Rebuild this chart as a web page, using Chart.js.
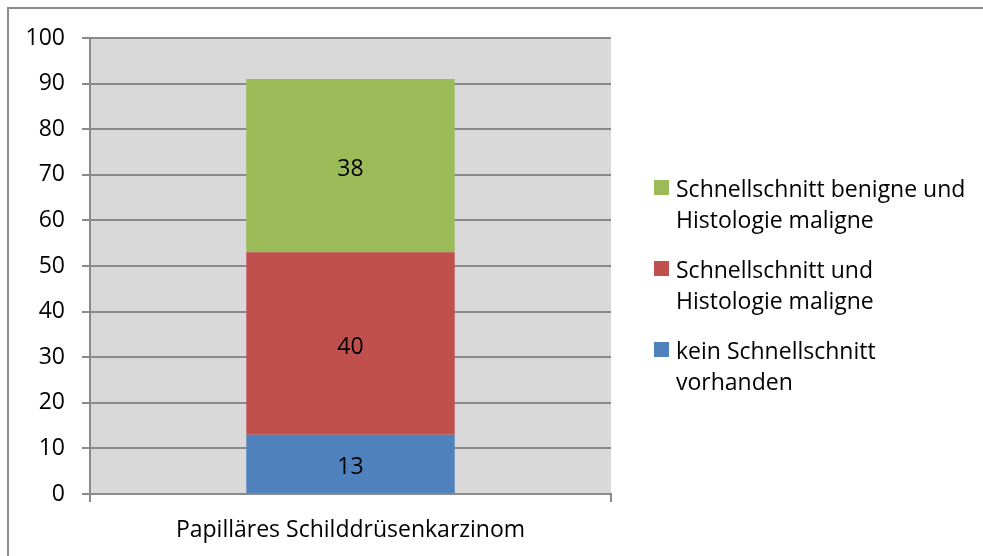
<!DOCTYPE html>
<html>
<head>
<meta charset="utf-8">
<script src="https://cdn.jsdelivr.net/npm/chart.js@4/dist/chart.umd.min.js"></script>
<style>
    html, body { margin: 0; padding: 0; background: #fff; }
    #wrap { position: relative; width: 983px; height: 556px; overflow: hidden; }
    #frame {
        position: absolute; left: 7px; top: 7px; width: 1000px; height: 600px;
        border-left: 2px solid #8c8c8c; border-top: 2px solid #8c8c8c;
        pointer-events: none;
    }
</style>
</head>
<body>
<div id="wrap">
    <canvas id="chart" width="983" height="556"></canvas>
    <div id="frame"></div>
</div>
<script>
// Données
const categories = ['Papilläres Schilddrüsenkarzinom'];
const seriesNames = [
    ['kein Schnellschnitt', 'vorhanden'],
    ['Schnellschnitt und', 'Histologie maligne'],
    ['Schnellschnitt benigne und', 'Histologie maligne']
];
const keinSchnellschnitt = [13];
const schnellschnittMaligne = [40];
const schnellschnittBenigne = [38];
const seriesColors = ['#4f81bd', '#c0504d', '#9bbb59'];
const yTicks = [0, 10, 20, 30, 40, 50, 60, 70, 80, 90, 100];

const FONT = '"Open Sans"';
const FONT_SIZE = 23;
const GRID = '#8a8a8a';

// Fond gris de la zone de tracé
const plotBackground = {
    id: 'plotBackground',
    beforeDraw(chart) {
        const { ctx, chartArea } = chart;
        ctx.save();
        ctx.fillStyle = '#d9d9d9';
        ctx.fillRect(chartArea.left, chartArea.top, chartArea.right - chartArea.left, chartArea.bottom - chartArea.top);
        ctx.restore();
    }
};

// Valeurs au centre de chaque segment
const segmentLabels = {
    id: 'segmentLabels',
    afterDatasetsDraw(chart) {
        const { ctx } = chart;
        ctx.save();
        ctx.fillStyle = '#000';
        ctx.font = `${FONT_SIZE}px ${FONT}`;
        ctx.textAlign = 'center';
        ctx.textBaseline = 'middle';
        chart.data.datasets.forEach((ds, i) => {
            chart.getDatasetMeta(i).data.forEach((bar, j) => {
                const c = bar.getCenterPoint();
                ctx.fillText(String(ds.data[j]), c.x, c.y + 4);
            });
        });
        ctx.restore();
    }
};

// Légende à droite, texte sur deux lignes, ordre inversé
const sideLegend = {
    id: 'sideLegend',
    afterDraw(chart) {
        const { ctx, chartArea } = chart;
        const x = chartArea.right + 43;
        let y = 188;
        ctx.save();
        ctx.font = `${FONT_SIZE}px ${FONT}`;
        ctx.textBaseline = 'middle';
        ctx.textAlign = 'left';
        for (let i = chart.data.datasets.length - 1; i >= 0; i--) {
            const ds = chart.data.datasets[i];
            ctx.fillStyle = ds.backgroundColor;
            ctx.fillRect(x, y - 8, 15, 15);
            ctx.fillStyle = '#000';
            ds.label.forEach((line, k) => {
                ctx.fillText(line, x + 22, y + 2 + k * 31);
            });
            y += 81;
        }
        ctx.restore();
    }
};

const values = [keinSchnellschnitt, schnellschnittMaligne, schnellschnittBenigne];

new Chart(document.getElementById('chart'), {
    type: 'bar',
    data: {
        labels: categories,
        datasets: values.map((v, i) => ({
            label: seriesNames[i],
            data: v,
            backgroundColor: seriesColors[i],
            borderWidth: 0,
            categoryPercentage: 1,
            barPercentage: 0.4
        }))
    },
    options: {
        responsive: false,
        animation: false,
        devicePixelRatio: 1,
        layout: { padding: { left: 0, right: 372, top: 38, bottom: 0 } },
        plugins: {
            legend: { display: false },
            tooltip: { enabled: false }
        },
        scales: {
            x: {
                stacked: true,
                offset: true,
                afterFit: (scale) => { scale.height = 62; },
                grid: {
                    display: true,
                    offset: true,
                    drawOnChartArea: false,
                    drawTicks: true,
                    tickLength: 8,
                    color: GRID,
                    lineWidth: 2
                },
                border: { display: true, color: GRID, width: 2 },
                ticks: {
                    color: '#000',
                    padding: 15,
                    font: { family: FONT, size: FONT_SIZE }
                }
            },
            y: {
                stacked: true,
                min: 0,
                max: 100,
                afterFit: (scale) => { scale.width = 90; },
                afterBuildTicks: (scale) => { scale.ticks = yTicks.map(v => ({ value: v })); },
                grid: {
                    color: GRID,
                    lineWidth: 2,
                    tickLength: 8
                },
                border: { display: true, color: GRID, width: 2 },
                ticks: {
                    color: '#000',
                    padding: 17,
                    font: { family: FONT, size: FONT_SIZE }
                }
            }
        }
    },
    plugins: [plotBackground, segmentLabels, sideLegend]
});
</script>
</body>
</html>
